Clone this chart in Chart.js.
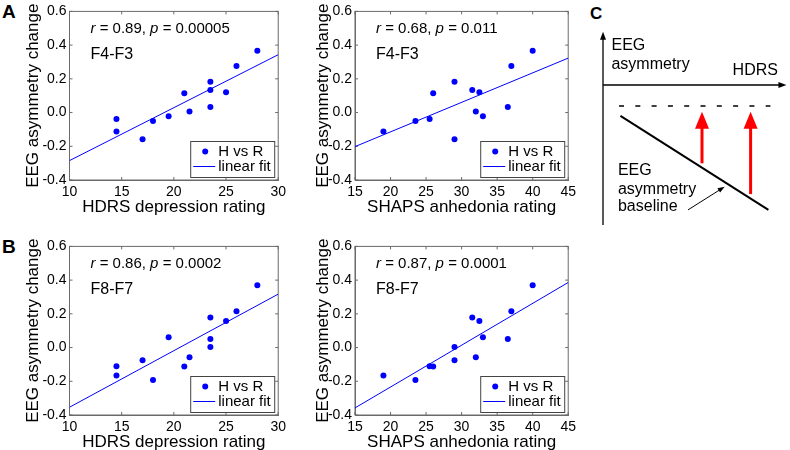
<!DOCTYPE html>
<html>
<head>
<meta charset="utf-8">
<script src="https://cdn.jsdelivr.net/npm/chart.js@4.4.1/dist/chart.umd.min.js"></script>
<style>
body { margin: 0; width: 790px; height: 450px; background: #fff; overflow: hidden; position: relative; font-family: Arial, "Liberation Sans", sans-serif; }
canvas { position: absolute; }
.panel { position: absolute; font-weight: bold; line-height: 1; color: #000; }
</style>
</head>
<body>
<div class="panel" style="left:2px;top:2px;font-size:19px">A</div>
<div class="panel" style="left:2px;top:237px;font-size:19px">B</div>
<div class="panel" style="left:590px;top:5px;font-size:17px">C</div>
<canvas id="a1" width="290" height="225" style="left:0;top:0"></canvas>
<canvas id="a2" width="290" height="225" style="left:290px;top:0"></canvas>
<canvas id="b1" width="290" height="225" style="left:0;top:235px"></canvas>
<canvas id="b2" width="290" height="225" style="left:290px;top:235px"></canvas>
<canvas id="c" width="210" height="240" style="left:580px;top:0"></canvas>
<script>
// subjects, same order in every array
var hdrs  = [14.5, 14.5, 17, 18, 19.5, 21, 21.5, 23.5, 23.5, 23.5, 25, 26, 28];
var shaps = [25.5, 19, 29, 23.5, 33, 26, 32, 29, 31.5, 36.5, 32.5, 37, 40];
var f4f3  = [-0.038, -0.113, -0.158, -0.05, -0.022, 0.114, 0.007, 0.183, 0.134, 0.033, 0.12, 0.276, 0.366];
var f8f7  = [-0.111, -0.166, -0.075, -0.192, 0.061, -0.113, -0.058, 0.003, 0.179, 0.051, 0.157, 0.216, 0.370];

// linear fit end points
var fitA1 = [{x: 10, y: -0.285}, {x: 30, y: 0.343}];
var fitA2 = [{x: 15, y: -0.202}, {x: 45, y: 0.323}];
var fitB1 = [{x: 10, y: -0.354}, {x: 30, y: 0.317}];
var fitB2 = [{x: 15, y: -0.358}, {x: 45, y: 0.386}];

var yTicks = [-0.4, -0.2, 0.0, 0.2, 0.4, 0.6];
var stats = [['0.89', '0.00005'], ['0.68', '0.011'], ['0.86', '0.0002'], ['0.87', '0.0001']];
var pairs = ['F4-F3', 'F4-F3', 'F8-F7', 'F8-F7'];
var legendLabels = ['H vs R', 'linear fit'];

var FONT = 'Arial, "Liberation Sans", sans-serif';
Chart.defaults.font.family = FONT;
Chart.defaults.color = '#000';
var AXIS = '#6a6a6a';
var BLUE = '#0000ff';

// box, inward ticks, r/p text and framed legend, matlab style
var framePlugin = {
    id: 'frame',
    beforeDatasetsDraw: function(chart) {
        var ctx = chart.ctx, a = chart.chartArea;
        var xs = chart.scales.x, ys = chart.scales.y;
        ctx.save();
        ctx.strokeStyle = AXIS;
        ctx.lineWidth = 1;
        ctx.strokeRect(a.left, a.top, a.right - a.left, a.bottom - a.top);
        ctx.beginPath();
        xs.ticks.forEach(function(t) {
            var px = xs.getPixelForValue(t.value);
            ctx.moveTo(px, a.bottom); ctx.lineTo(px, a.bottom - 3);
            ctx.moveTo(px, a.top); ctx.lineTo(px, a.top + 3);
        });
        ys.ticks.forEach(function(t) {
            var py = ys.getPixelForValue(t.value);
            ctx.moveTo(a.left, py); ctx.lineTo(a.left + 3, py);
            ctx.moveTo(a.right, py); ctx.lineTo(a.right - 3, py);
        });
        ctx.stroke();
        ctx.restore();
    },
    afterDatasetsDraw: function(chart) {
        var o = chart.options.plugins.frame;
        var ctx = chart.ctx, a = chart.chartArea;
        ctx.save();
        ctx.fillStyle = '#000';
        ctx.textBaseline = 'middle';
        ctx.textAlign = 'left';
        // r = .., p = ..
        var parts = [['italic', 'r'], ['', ' = ' + o.stat[0] + ', '], ['italic', 'p'], ['', ' = ' + o.stat[1]]];
        var x = a.left + 21, y = a.top + 17.5;
        parts.forEach(function(p) {
            ctx.font = (p[0] ? p[0] + ' ' : '') + '15px ' + FONT;
            ctx.fillText(p[1], x, y);
            x += ctx.measureText(p[1]).width;
        });
        ctx.font = '16px ' + FONT;
        ctx.fillText(o.pair, a.left + 21, a.top + 43);

        // legend
        var bw = 84, bh = 36;
        var bx = a.right - 4 - bw, by = a.bottom - 3 - bh;
        ctx.fillStyle = '#fff';
        ctx.fillRect(bx, by, bw, bh);
        ctx.strokeStyle = '#444';
        ctx.lineWidth = 1;
        ctx.strokeRect(bx + 0.5, by + 0.5, bw, bh);
        ctx.fillStyle = BLUE;
        ctx.beginPath();
        ctx.arc(bx + 15, by + 10.5, 3, 0, Math.PI * 2);
        ctx.fill();
        ctx.strokeStyle = BLUE;
        ctx.beginPath();
        ctx.moveTo(bx + 3, by + 25.5); ctx.lineTo(bx + 25, by + 25.5);
        ctx.stroke();
        ctx.fillStyle = '#000';
        ctx.font = '15px ' + FONT;
        ctx.fillText(legendLabels[0], bx + 28, by + 10.5);
        ctx.fillText(legendLabels[1], bx + 28, by + 25.5);
        ctx.restore();
    }
};

function makePlot(id, xs, ys, fit, xMin, xMax, xTitle, yWidth, padRight, idx) {
    var ctx = document.getElementById(id).getContext('2d');
    return new Chart(ctx, {
        type: 'scatter',
        data: {
            datasets: [
                {
                    label: legendLabels[0],
                    data: xs.map(function(v, i) { return {x: v, y: ys[i]}; }),
                    backgroundColor: BLUE,
                    borderColor: BLUE,
                    borderWidth: 0,
                    pointRadius: 3
                },
                {
                    label: legendLabels[1],
                    data: fit,
                    showLine: true,
                    borderColor: BLUE,
                    borderWidth: 1,
                    pointRadius: 0,
                    fill: false
                }
            ]
        },
        options: {
            responsive: false,
            animation: false,
            events: [],
            layout: { padding: { left: 0, top: 10, right: padRight, bottom: 0 } },
            scales: {
                x: {
                    min: xMin, max: xMax,
                    grid: { display: false, drawTicks: false },
                    border: { color: AXIS },
                    ticks: { stepSize: 5, padding: 4, maxRotation: 0, autoSkip: false, font: { size: 14 } },
                    title: { display: true, text: xTitle, font: { size: 17 }, padding: { top: 0, bottom: 7 } },
                    afterFit: function(s) { s.height = 45; }
                },
                y: {
                    min: -0.4, max: 0.6,
                    grid: { display: false, drawTicks: false },
                    border: { color: AXIS },
                    afterBuildTicks: function(s) { s.ticks = yTicks.map(function(v) { return {value: v}; }); },
                    ticks: {
                        padding: 3, font: { size: 14 },
                        callback: function(v) { return Math.abs(v) < 1e-9 ? '0.0' : Number(v).toFixed(1); }
                    },
                    title: { display: true, text: 'EEG asymmetry change', font: { size: 17 }, padding: { top: 23, bottom: 0 } },
                    afterFit: function(s) { s.width = yWidth; }
                }
            },
            plugins: {
                legend: { display: false },
                tooltip: { enabled: false },
                frame: { stat: stats[idx], pair: pairs[idx] }
            }
        },
        plugins: [framePlugin]
    });
}

makePlot('a1', hdrs, f4f3, fitA1, 10, 30, 'HDRS depression rating', 69.5, 5, 0);
makePlot('a2', shaps, f4f3, fitA2, 15, 45, 'SHAPS anhedonia rating', 65, 11, 1);
makePlot('b1', hdrs, f8f7, fitB1, 10, 30, 'HDRS depression rating', 69.5, 5, 2);
makePlot('b2', shaps, f8f7, fitB2, 15, 45, 'SHAPS anhedonia rating', 65, 11, 3);

// panel C schematic, in arbitrary units (origin = where the axes cross)
var axisXEnd = 10.19, axisYTop = 2.96, axisYBottom = -7.78;
var dashedLevel = -1.17, dashedFrom = 0.89, dashedTo = 9.3;
var baseline = [{x: 0.97, y: -1.72}, {x: 9.19, y: -6.94}];
var arrowX = [5.5, 8.2], arrowFoot = [-4.35, -6.06], arrowTip = -1.48;
var pointer = [{x: 4.72, y: -6.94}, {x: 6.76, y: -5.65}];
var cTextTop = [['EEG', 0.47, 2.17], ['asymmetry', 0.47, 1.11]];
var cTextBottom = [['EEG', 0.83, -4.76], ['asymmetry', 0.83, -5.79], ['baseline', 0.83, -6.76]];
var cTextAxis = ['HDRS', 9.72, 0.79];

function head(ctx, x0, y0, x1, y1, len, wid, color) {
    var ang = Math.atan2(y1 - y0, x1 - x0);
    ctx.save();
    ctx.translate(x1, y1);
    ctx.rotate(ang);
    ctx.fillStyle = color;
    ctx.beginPath();
    ctx.moveTo(0, 0);
    ctx.lineTo(-len, -wid / 2);
    ctx.lineTo(-len, wid / 2);
    ctx.closePath();
    ctx.fill();
    ctx.restore();
}

var schemePlugin = {
    id: 'scheme',
    afterDatasetsDraw: function(chart) {
        var ctx = chart.ctx;
        var sx = chart.scales.x, sy = chart.scales.y;
        function px(v) { return sx.getPixelForValue(v); }
        function py(v) { return sy.getPixelForValue(v); }
        head(ctx, px(0), py(0), px(axisXEnd), py(0), 8, 6, '#000');
        head(ctx, px(0), py(0), px(0), py(axisYTop), 8, 6, '#000');
        arrowX.forEach(function(x, i) {
            head(ctx, px(x), py(arrowFoot[i]), px(x), py(arrowTip), 17, 14, '#ff0000');
        });
        head(ctx, px(pointer[0].x), py(pointer[0].y), px(pointer[1].x), py(pointer[1].y), 7, 5, '#000');
        ctx.save();
        ctx.fillStyle = '#000';
        ctx.font = '16px ' + FONT;
        ctx.textBaseline = 'middle';
        ctx.textAlign = 'left';
        cTextTop.concat(cTextBottom).forEach(function(t) { ctx.fillText(t[0], px(t[1]), py(t[2])); });
        ctx.textAlign = 'right';
        ctx.fillText(cTextAxis[0], px(cTextAxis[1]), py(cTextAxis[2]));
        ctx.restore();
    }
};

function seg(points, color, width, dash) {
    return { data: points, showLine: true, borderColor: color, borderWidth: width, borderDash: dash || [],
             pointRadius: 0, fill: false, clip: false };
}

new Chart(document.getElementById('c').getContext('2d'), {
    type: 'scatter',
    data: {
        datasets: [
            seg([{x: 0, y: 0}, {x: axisXEnd - 0.3, y: 0}], '#000', 1.3),
            seg([{x: 0, y: axisYBottom}, {x: 0, y: axisYTop - 0.3}], '#000', 1.3),
            seg([{x: dashedFrom, y: dashedLevel}, {x: dashedTo, y: dashedLevel}], '#000', 1.5, [5, 11.3]),
            seg(baseline, '#000', 2),
            seg([{x: arrowX[0], y: arrowFoot[0]}, {x: arrowX[0], y: arrowTip - 0.8}], '#ff0000', 3),
            seg([{x: arrowX[1], y: arrowFoot[1]}, {x: arrowX[1], y: arrowTip - 0.8}], '#ff0000', 3),
            seg([pointer[0], {x: pointer[1].x - 0.25, y: pointer[1].y - 0.16}], '#000', 1)
        ]
    },
    options: {
        responsive: false,
        animation: false,
        events: [],
        layout: { padding: { left: 23, top: 31, right: 7, bottom: 11 } },
        scales: {
            x: { display: false, min: 0, max: 10 },
            y: { display: false, min: -8, max: 3 }
        },
        plugins: { legend: { display: false }, tooltip: { enabled: false } }
    },
    plugins: [schemePlugin]
});
</script>
</body>
</html>
